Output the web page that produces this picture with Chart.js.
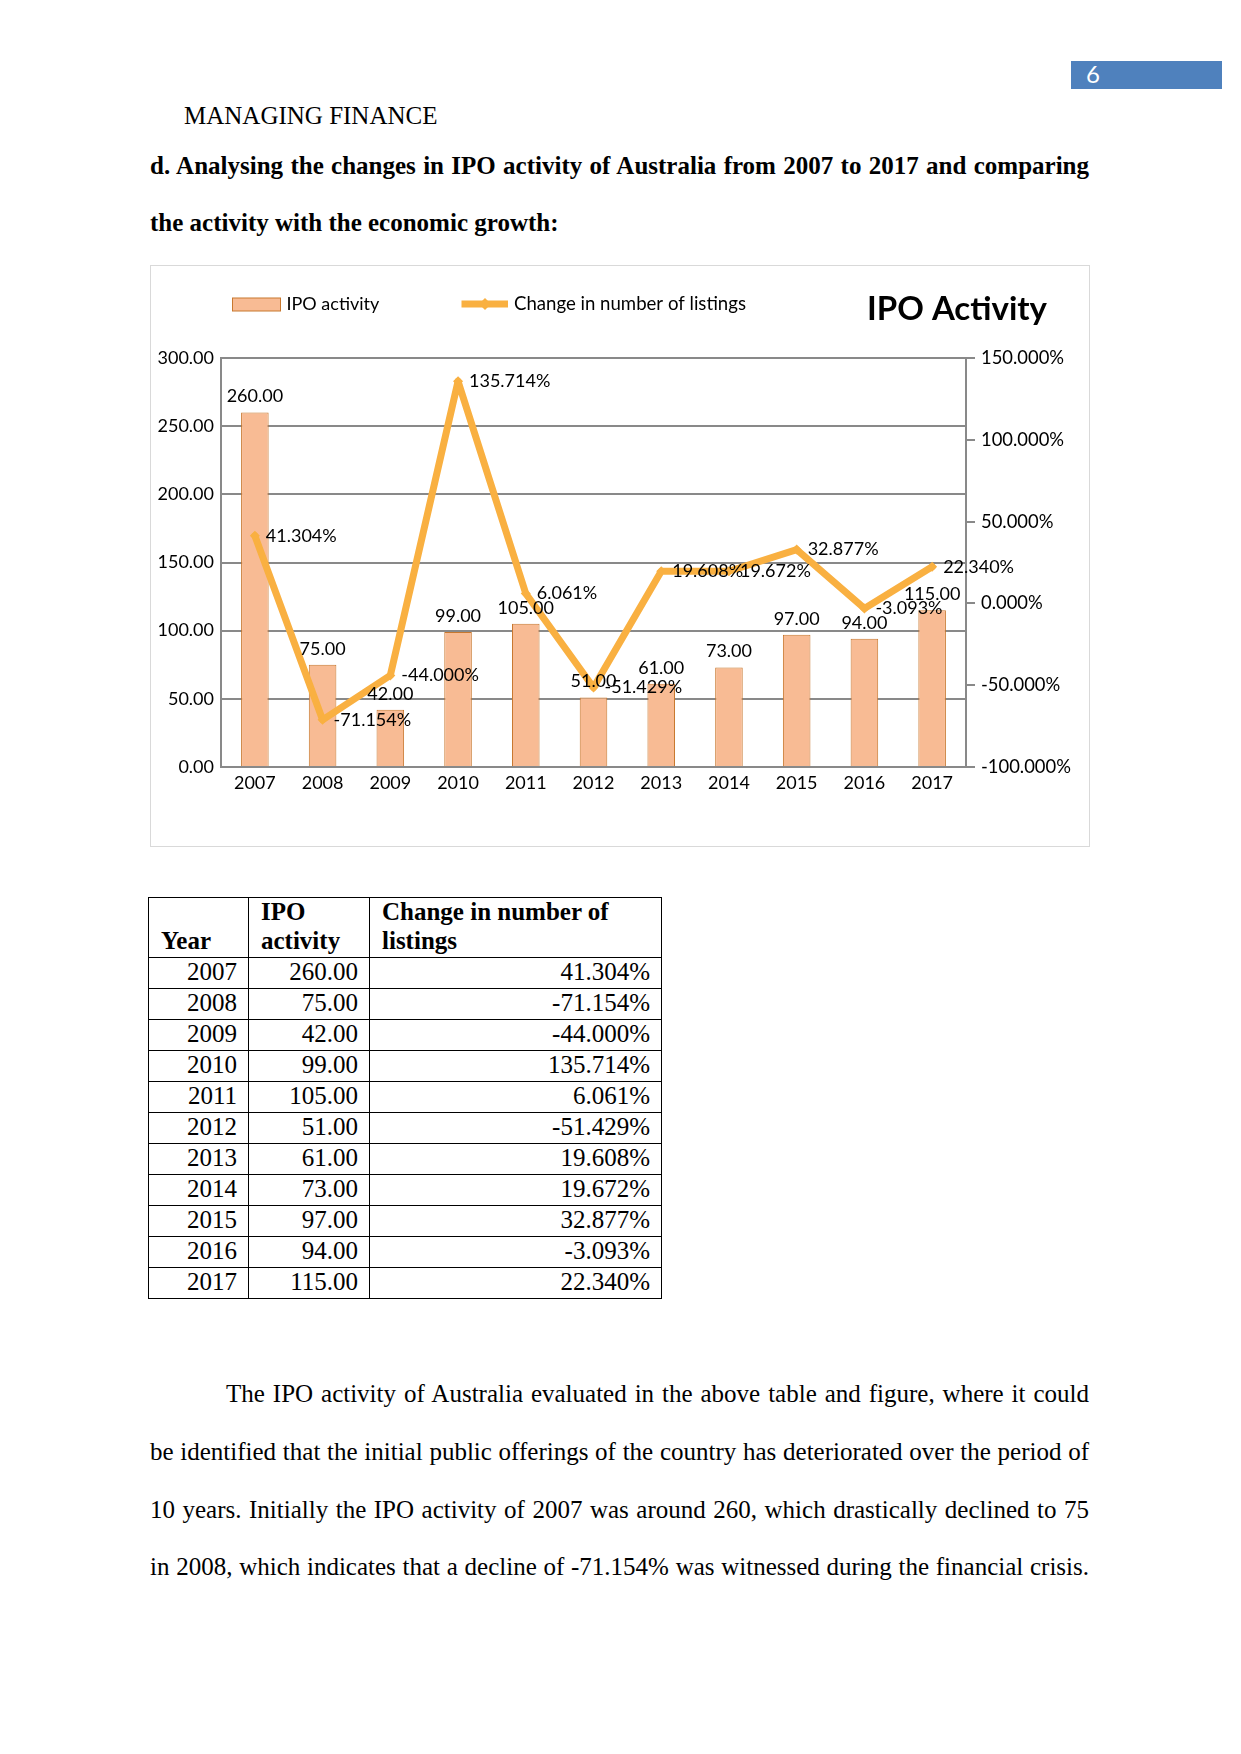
<!DOCTYPE html>
<html>
<head>
<meta charset="utf-8">
<title>IPO Activity</title>
<script src="https://cdn.jsdelivr.net/npm/chart.js@4.4.1/dist/chart.umd.min.js"></script>
<style>
  html, body { margin: 0; padding: 0; background: #fff; }
  body { width: 1241px; height: 1754px; position: relative; overflow: hidden;
         font-family: "Liberation Serif", "Times New Roman", serif; color: #000; }
  .ln { position: absolute; white-space: nowrap; font-size: 25px; line-height: 28.75px; }
  .just { text-align: justify; text-align-last: justify; }
  .b { font-weight: bold; }
  #pbox { position: absolute; left: 1071px; top: 61px; width: 151px; height: 28px; background: #4F81BD; }
  #pnum { position: absolute; left: 1086px; top: 59px; font: 24px Lato, sans-serif; color: #fff; line-height: 30px; }
  #chartBox { position: absolute; left: 150px; top: 265px; width: 940px; height: 582px;
              box-sizing: border-box; border: 1px solid #d9d9d9; }
  #c { position: absolute; left: 150px; top: 265px; }
  #tbl { position: absolute; left: 148px; top: 897px; border-collapse: collapse; table-layout: fixed;
         font-size: 25px; line-height: 28.75px; }
  #tbl td, #tbl th { border: 1px solid #000; padding: 0 11px 1px 12px; vertical-align: bottom; }
  #tbl th { font-weight: bold; text-align: left; height: 57px; }
  #tbl td { text-align: right; height: 29px; }
</style>
</head>
<body>
<div id="pbox"></div>
<div id="pnum">6</div>

<div class="ln" style="left:184px; top:102px;">MANAGING FINANCE</div>
<div class="ln b just" style="left:150px; top:152px; width:939px;">d. Analysing the changes in IPO activity of Australia from 2007 to 2017 and comparing</div>
<div class="ln b" style="left:150px; top:208.5px;">the activity with the economic growth:</div>

<div id="chartBox"></div>
<canvas id="c" width="939" height="582"></canvas>

<table id="tbl">
  <colgroup><col style="width:100px"><col style="width:121px"><col style="width:292px"></colgroup>
  <thead><tr><th>Year</th><th>IPO<br>activity</th><th>Change in number of<br>listings</th></tr></thead>
  <tbody id="tbody"></tbody>
</table>

<div class="ln just" style="left:226px; top:1380px; width:863px;">The IPO activity of Australia evaluated in the above table and figure, where it could</div>
<div class="ln just" style="left:150px; top:1438px; width:939px;">be identified that the initial public offerings of the country has deteriorated over the period of</div>
<div class="ln just" style="left:150px; top:1495.5px; width:939px;">10 years. Initially the IPO activity of 2007 was around 260, which drastically declined to 75</div>
<div class="ln just" style="left:150px; top:1552.5px; width:939px;">in 2008, which indicates that a decline of -71.154% was witnessed during the financial crisis.</div>

<script>
// ---- Data ----
const years = ['2007', '2008', '2009', '2010', '2011', '2012', '2013', '2014', '2015', '2016', '2017'];
const ipoActivity = [260, 75, 42, 99, 105, 51, 61, 73, 97, 94, 115];
const listingChange = [41.304, -71.154, -44.000, 135.714, 6.061, -51.429, 19.608, 19.672, 32.877, -3.093, 22.340];
const leftTicks = [0, 50, 100, 150, 200, 250, 300];
const rightTicks = [-100, -50, 0, 50, 100, 150];
const seriesNames = ['IPO activity', 'Change in number of listings'];
const chartTitle = 'IPO Activity';

// ---- Table built from the same arrays ----
const tbody = document.getElementById('tbody');
years.forEach((y, i) => {
  const tr = document.createElement('tr');
  [y, ipoActivity[i].toFixed(2), listingChange[i].toFixed(3) + '%'].forEach(t => {
    const td = document.createElement('td'); td.textContent = t; tr.appendChild(td);
  });
  tbody.appendChild(tr);
});

// ---- Styling ----
const FONT = 'Lato';
const FS = 18;
const BAR_FILL = '#F8BB94';
const BAR_EDGE = '#C8782F';
const LINE_COL = '#F9B041';
const GRID_COL = '#898989';

const valueLabels = {
  id: 'valueLabels',
  afterDatasetsDraw(chart) {
    const c = chart.ctx;
    c.save();
    c.font = FS + 'px ' + FONT;
    c.fillStyle = '#000';
    c.textBaseline = 'middle';
    chart.data.datasets.forEach((ds, i) => {
      const meta = chart.getDatasetMeta(i);
      meta.data.forEach((el, j) => {
        if (ds.type === 'bar') {
          c.textAlign = 'center';
          c.fillText(ds.data[j].toFixed(2), el.x, el.y - 16);
        } else {
          c.textAlign = 'left';
          c.fillText(ds.data[j].toFixed(3) + '%', el.x + 11, el.y);
        }
      });
    });
    c.restore();
  }
};

const legendTitle = {
  id: 'legendTitle',
  afterDraw(chart) {
    const c = chart.ctx;
    c.save();
    // bar legend item
    c.fillStyle = BAR_FILL; c.strokeStyle = BAR_EDGE; c.lineWidth = 1;
    c.fillRect(82.5, 33, 48, 13);
    c.strokeRect(82.5, 33, 48, 13);
    c.font = FS + 'px ' + FONT; c.fillStyle = '#000';
    c.textAlign = 'left'; c.textBaseline = 'alphabetic';
    c.fillText(seriesNames[0], 136.5, 44.5);
    // line legend item
    c.strokeStyle = LINE_COL; c.lineWidth = 7; c.lineCap = 'butt';
    c.beginPath(); c.moveTo(311.5, 39); c.lineTo(358, 39); c.stroke();
    c.fillStyle = LINE_COL;
    c.beginPath(); c.moveTo(335, 33); c.lineTo(341, 39); c.lineTo(335, 45); c.lineTo(329, 39); c.closePath(); c.fill();
    c.fillStyle = '#000';
    c.font = '18.6px ' + FONT;
    c.fillText(seriesNames[1], 364, 44.5);
    // title
    c.font = 'bold 33px ' + FONT;
    c.fillText(chartTitle, 717, 55);
    c.restore();
  }
};

new Chart(document.getElementById('c'), {
  data: {
    labels: years,
    datasets: [
      {
        type: 'line', label: seriesNames[1], data: listingChange, yAxisID: 'y1', order: 0,
        borderColor: LINE_COL, backgroundColor: LINE_COL, borderWidth: 7,
        borderJoinStyle: 'round', borderCapStyle: 'round', tension: 0,
        pointStyle: 'rectRot', pointRadius: 5, pointBorderWidth: 0, pointBackgroundColor: LINE_COL
      },
      {
        type: 'bar', label: seriesNames[0], data: ipoActivity, yAxisID: 'y', order: 1,
        backgroundColor: BAR_FILL, borderColor: BAR_EDGE, borderWidth: 1,
        barPercentage: 0.407, categoryPercentage: 1
      }
    ]
  },
  options: {
    responsive: false,
    animation: false,
    layout: { padding: { top: 93, left: 0, right: 0, bottom: 0 } },
    plugins: { legend: { display: false }, title: { display: false }, tooltip: { enabled: false } },
    scales: {
      x: {
        grid: { display: false, drawTicks: false },
        border: { display: false },
        ticks: { padding: 5, color: '#000', font: { family: FONT, size: FS }, maxRotation: 0 },
        afterFit(s) { s.height = 80; }
      },
      y: {
        position: 'left',
        min: leftTicks[0], max: leftTicks[leftTicks.length - 1],
        afterBuildTicks(s) { s.ticks = leftTicks.map(v => ({ value: v })); },
        ticks: { padding: 7, color: '#000', font: { family: FONT, size: FS }, callback: v => Number(v).toFixed(2) },
        grid: { color: GRID_COL, lineWidth: 2, drawTicks: false },
        border: { color: GRID_COL, width: 2 },
        afterFit(s) { s.width = 71; }
      },
      y1: {
        position: 'right',
        min: rightTicks[0], max: rightTicks[rightTicks.length - 1],
        afterBuildTicks(s) { s.ticks = rightTicks.map(v => ({ value: v })); },
        ticks: { padding: 6, color: '#000', font: { family: FONT, size: 18.4 }, callback: v => Number(v).toFixed(3) + '%' },
        grid: { drawOnChartArea: false, drawTicks: true, tickLength: 9, color: GRID_COL, lineWidth: 2 },
        border: { color: GRID_COL, width: 2 },
        afterFit(s) { s.width = 123; }
      }
    }
  },
  plugins: [valueLabels, legendTitle]
});
</script>
</body>
</html>
